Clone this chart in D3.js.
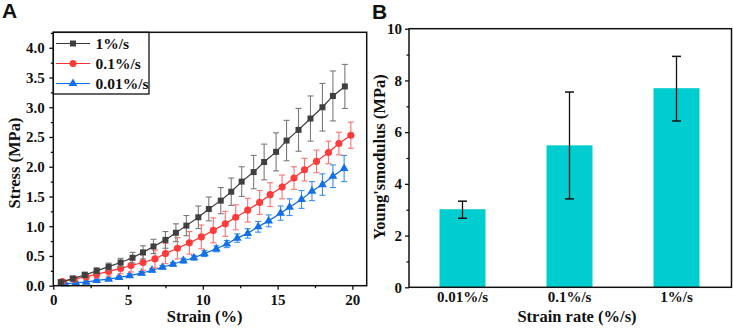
<!DOCTYPE html>
<html><head><meta charset="utf-8">
<script src="https://cdn.jsdelivr.net/npm/d3@7"></script>
<style>body{margin:0;background:#fff}svg{display:block}</style>
</head><body>
<svg id="c" width="733" height="329"></svg>
<script>
// ---- Panel A data ----
const seriesNames = ["1%/s", "0.1%/s", "0.01%/s"];
const grayX = [0.5,1.3,2.1,2.9,3.7,4.5,5.3,6.0,6.7,7.5,8.2,8.9,9.7,10.4,11.2,11.9,12.6,13.4,14.1,14.9,15.6,16.4,17.2,18.0,18.7,19.5];
const grayY = [0.06,0.12,0.18,0.25,0.32,0.39,0.47,0.56,0.66,0.77,0.89,1.01,1.15,1.29,1.43,1.58,1.75,1.91,2.08,2.25,2.44,2.62,2.81,3.00,3.19,3.35];
const grayE = [0.03,0.04,0.05,0.05,0.06,0.07,0.09,0.11,0.12,0.14,0.15,0.17,0.19,0.20,0.22,0.23,0.25,0.28,0.30,0.32,0.34,0.36,0.38,0.40,0.42,0.37];
const redX = [0.6,1.4,2.2,2.9,3.7,4.5,5.2,6.0,6.8,7.5,8.3,9.1,9.9,10.7,11.5,12.2,13.0,13.8,14.5,15.3,16.1,16.8,17.6,18.4,19.1,19.9];
const redY = [0.07,0.11,0.15,0.19,0.24,0.29,0.34,0.39,0.45,0.54,0.63,0.72,0.82,0.93,1.04,1.15,1.27,1.40,1.53,1.66,1.81,1.95,2.09,2.24,2.39,2.53];
const redE = [0.03,0.04,0.05,0.06,0.08,0.09,0.11,0.13,0.15,0.17,0.18,0.19,0.20,0.21,0.21,0.21,0.20,0.20,0.20,0.20,0.19,0.19,0.19,0.19,0.19,0.22];
const blueX = [0.8,1.5,2.2,2.9,3.7,4.4,5.1,5.9,6.6,7.3,8.0,8.7,9.4,10.1,10.9,11.6,12.3,13.0,13.7,14.4,15.2,15.8,16.6,17.3,18.0,18.7,19.45];
const blueY = [0.03,0.05,0.06,0.09,0.11,0.14,0.17,0.21,0.26,0.31,0.36,0.42,0.47,0.54,0.62,0.70,0.80,0.88,0.99,1.09,1.22,1.32,1.45,1.59,1.70,1.84,1.97];
const blueE = [0.02,0.02,0.02,0.02,0.02,0.02,0.03,0.03,0.03,0.03,0.03,0.04,0.04,0.05,0.05,0.06,0.07,0.08,0.09,0.10,0.12,0.14,0.15,0.16,0.18,0.19,0.22];
const xTicksA = [0,5,10,15,20];
const yTicksA = [0.0,0.5,1.0,1.5,2.0,2.5,3.0,3.5,4.0];

// ---- Panel B data ----
const rateCats = ["0.01%/s","0.1%/s","1%/s"];
const modulus = [3.02,5.49,7.70];
const modLow = [2.67,3.42,6.43];
const modHigh = [3.33,7.55,8.93];
const yTicksB = [0,2,4,6,8,10];

const svg = d3.select("#c");
const serif = "'Liberation Serif','Times New Roman',serif";
const sans = "'Liberation Sans',Arial,sans-serif";

// ===== Panel A =====
const A = {l:53.3, r:366.7, t:32.3, b:285.7};
const xA = d3.scaleLinear().domain([0,20.96]).range([A.l, A.r]);
const yA = d3.scaleLinear().domain([0,4.26]).range([A.b, A.t]);
const gA = svg.append("g");

const series = [
  {name:seriesNames[0], X:grayX, Y:grayY, E:grayE, line:"#3a3a3a", mk:"#3f3f3f", err:"#7a7a7a", shape:d3.symbolSquare, size:36},
  {name:seriesNames[1], X:redX, Y:redY, E:redE, line:"#ff3030", mk:"#ff3b3b", err:"#ff7070", shape:d3.symbolCircle, size:40},
  {name:seriesNames[2], X:blueX, Y:blueY, E:blueE, line:"#0a6be0", mk:"#1470e6", err:"#3a8ef0", shape:d3.symbolTriangle, size:34}
];

[2,1,0].forEach(si => {
  const s = series[si];
  const pts = s.X.map((x,i)=>({x, y:s.Y[i], e:s.E[i]}));
  const g = gA.append("g");
  const eb = g.selectAll(".eb").data(pts).enter().append("g");
  eb.append("line").attr("x1",d=>xA(d.x)).attr("x2",d=>xA(d.x))
    .attr("y1",d=>yA(d.y+d.e)).attr("y2",d=>yA(Math.max(0,d.y-d.e)))
    .attr("stroke",s.err).attr("stroke-width",1.1);
  eb.append("line").attr("x1",d=>xA(d.x)-3).attr("x2",d=>xA(d.x)+3)
    .attr("y1",d=>yA(d.y+d.e)).attr("y2",d=>yA(d.y+d.e))
    .attr("stroke",s.err).attr("stroke-width",1.1);
  eb.filter(d=>d.y-d.e>0).append("line").attr("x1",d=>xA(d.x)-3).attr("x2",d=>xA(d.x)+3)
    .attr("y1",d=>yA(d.y-d.e)).attr("y2",d=>yA(d.y-d.e))
    .attr("stroke",s.err).attr("stroke-width",1.1);
  g.append("path").datum(pts)
    .attr("d", d3.line().x(d=>xA(d.x)).y(d=>yA(d.y)))
    .attr("fill","none").attr("stroke",s.line).attr("stroke-width",1.2);
  g.selectAll(".mk").data(pts).enter().append("path")
    .attr("transform",d=>`translate(${xA(d.x)},${yA(d.y)})`)
    .attr("d", d3.symbol().type(s.shape).size(s.size))
    .attr("fill",s.mk);
});

// axes A
const xAxisA = gA.append("g").attr("transform",`translate(0,${A.b})`)
  .call(d3.axisBottom(xA).tickValues(xTicksA).tickSize(4).tickFormat(d3.format("d")));
gA.append("g").attr("transform",`translate(0,${A.b})`)
  .call(d3.axisBottom(xA).tickValues(d3.range(2.5,21,5)).tickSize(2.5).tickFormat(""));
const yAxisA = gA.append("g").attr("transform",`translate(${A.l},0)`)
  .call(d3.axisLeft(yA).tickValues(yTicksA).tickSize(4).tickFormat(d3.format(".1f")));
gA.append("g").attr("transform",`translate(${A.l},0)`)
  .call(d3.axisLeft(yA).tickValues(d3.range(0.25,4.26,0.5)).tickSize(2.5).tickFormat(""));
gA.selectAll(".domain").remove();
gA.selectAll(".tick line").attr("stroke","#111").attr("stroke-width",1.3);
gA.selectAll(".tick text").attr("font-family",serif).attr("font-weight","bold").attr("font-size",15).attr("fill","#111");
xAxisA.selectAll(".tick text").attr("dy","0.8em");
yAxisA.selectAll(".tick text").attr("dx","-0.1em");
gA.append("rect").attr("x",A.l).attr("y",A.t).attr("width",A.r-A.l).attr("height",A.b-A.t)
  .attr("fill","none").attr("stroke","#111").attr("stroke-width",1.5);

// legend A
const leg = gA.append("g");
leg.append("rect").attr("x",A.l).attr("y",A.t).attr("width",149-A.l).attr("height",94-A.t)
  .attr("fill","none").attr("stroke","#111").attr("stroke-width",1.3);
series.forEach((s,i)=>{
  const yy = 43.5 + i*20;
  leg.append("line").attr("x1",56).attr("x2",90).attr("y1",yy).attr("y2",yy)
    .attr("stroke",s.line).attr("stroke-width",1.2);
  leg.append("path").attr("transform",`translate(73,${yy})`)
    .attr("d", d3.symbol().type(s.shape).size(s.size)).attr("fill",s.mk);
  leg.append("text").attr("x",95.5).attr("y",yy+5.5).text(s.name)
    .attr("font-family",serif).attr("font-weight","bold").attr("font-size",15.5).attr("fill","#111");
});

gA.append("text").attr("x",(A.l+352)/2+2).attr("y",321.5).attr("text-anchor","middle")
  .text("Strain (%)").attr("font-family",serif).attr("font-weight","bold").attr("font-size",16.5).attr("fill","#111");
gA.append("text").attr("transform",`translate(20,163) rotate(-90)`).attr("text-anchor","middle")
  .text("Stress (MPa)").attr("font-family",serif).attr("font-weight","bold").attr("font-size",16.5).attr("fill","#111");
svg.append("text").attr("x",2).attr("y",17.5).text("A")
  .attr("font-family",sans).attr("font-weight","bold").attr("font-size",21).attr("fill","#111");

// ===== Panel B =====
const B = {l:409, r:731.5, t:28.7, b:287.3};
const xB = d3.scaleBand().domain(rateCats).range([B.l, B.l+321]).padding(0);
const yB = d3.scaleLinear().domain([0,10]).range([B.b, B.t]);
const gB = svg.append("g");
const barW = 46;
const bd = rateCats.map((c,i)=>({c, v:modulus[i], lo:modLow[i], hi:modHigh[i]}));
gB.selectAll(".bar").data(bd).enter().append("rect")
  .attr("x",d=>xB(d.c)+xB.bandwidth()/2-barW/2).attr("width",barW)
  .attr("y",d=>yB(d.v)).attr("height",d=>yB(0)-yB(d.v))
  .attr("fill","#00cdd0");
const ebB = gB.selectAll(".ebB").data(bd).enter().append("g");
ebB.append("line").attr("x1",d=>xB(d.c)+xB.bandwidth()/2).attr("x2",d=>xB(d.c)+xB.bandwidth()/2)
  .attr("y1",d=>yB(d.hi)).attr("y2",d=>yB(d.lo)).attr("stroke","#111").attr("stroke-width",1.3);
ebB.append("line").attr("x1",d=>xB(d.c)+xB.bandwidth()/2-4.5).attr("x2",d=>xB(d.c)+xB.bandwidth()/2+4.5)
  .attr("y1",d=>yB(d.hi)).attr("y2",d=>yB(d.hi)).attr("stroke","#111").attr("stroke-width",1.5);
ebB.append("line").attr("x1",d=>xB(d.c)+xB.bandwidth()/2-4.5).attr("x2",d=>xB(d.c)+xB.bandwidth()/2+4.5)
  .attr("y1",d=>yB(d.lo)).attr("y2",d=>yB(d.lo)).attr("stroke","#111").attr("stroke-width",1.5);

const yAxisB = gB.append("g").attr("transform",`translate(${B.l},0)`)
  .call(d3.axisLeft(yB).tickValues(yTicksB).tickSize(4).tickFormat(d3.format("d")));
gB.append("g").attr("transform",`translate(${B.l},0)`)
  .call(d3.axisLeft(yB).tickValues(d3.range(1,10,2)).tickSize(2.5).tickFormat(""));
const xAxisB = gB.append("g").attr("transform",`translate(0,${B.b})`)
  .call(d3.axisBottom(xB).tickSize(0));
gB.selectAll(".domain").remove();
gB.selectAll(".tick line").attr("stroke","#111").attr("stroke-width",1.3);
gB.selectAll(".tick text").attr("font-family",serif).attr("font-weight","bold").attr("font-size",15).attr("fill","#111");
xAxisB.selectAll(".tick text").attr("dy","0.8em");
gB.append("rect").attr("x",B.l).attr("y",B.t).attr("width",B.r-B.l).attr("height",B.b-B.t)
  .attr("fill","none").attr("stroke","#111").attr("stroke-width",1.5);
gB.append("text").attr("x",577).attr("y",321.5).attr("text-anchor","middle")
  .text("Strain rate (%/s)").attr("font-family",serif).attr("font-weight","bold").attr("font-size",16.5).attr("fill","#111");
gB.append("text").attr("transform",`translate(385,157) rotate(-90)`).attr("text-anchor","middle")
  .text("Young'smodulus (MPa)").attr("font-family",serif).attr("font-weight","bold").attr("font-size",16.5).attr("fill","#111");
svg.append("text").attr("x",372).attr("y",18.5).text("B")
  .attr("font-family",sans).attr("font-weight","bold").attr("font-size",21).attr("fill","#111");
</script>
</body></html>
